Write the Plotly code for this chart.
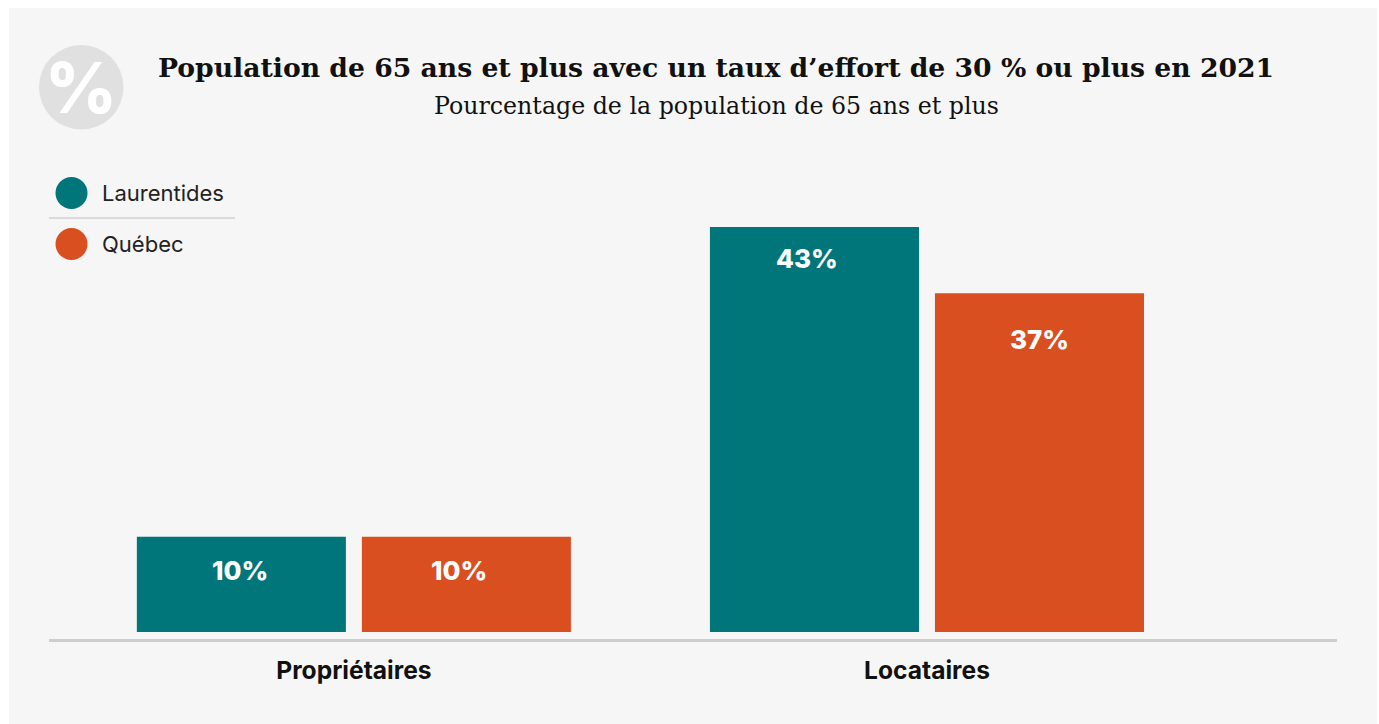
import plotly.graph_objects as go

W, H = 1379, 724
categories = ["Propriétaires", "Locataires"]
series_names = ["Laurentides", "Québec"]
laurentides = [10.2, 43.4]
quebec = [10.2, 36.3]
labels_laurentides = ["10%", "43%"]
labels_quebec = ["10%", "37%"]
title = "Population de 65 ans et plus avec un taux d’effort de 30 % ou plus en 2021"
subtitle = "Pourcentage de la population de 65 ans et plus"

TEAL = "#01767a"
ORANGE = "#d94f1f"
PANEL = "#f6f6f6"
SANS = "Inter, Lato, sans-serif"
SERIF = "'DejaVu Serif', serif"

def px(x):
    return x / W

def py(y):
    return 1 - y / H

fig = go.Figure()
for name, vals, col in [(series_names[0], laurentides, TEAL), (series_names[1], quebec, ORANGE)]:
    fig.add_bar(x=categories, y=vals, name=name, marker=dict(color=col, line=dict(width=0)),
                showlegend=False, hoverinfo="skip")

shapes = [
    dict(type="rect", xref="paper", yref="paper", x0=px(9), x1=px(1377), y0=py(8), y1=py(724),
         fillcolor=PANEL, line_width=0, layer="below"),
    dict(type="circle", xref="paper", yref="paper", x0=px(39), x1=px(123.5), y0=py(45), y1=py(129.5),
         fillcolor="#e0e0e0", line_width=0, layer="below"),
    dict(type="circle", xref="paper", yref="paper", x0=px(55.5), x1=px(87.5), y0=py(177), y1=py(209),
         fillcolor=TEAL, line_width=0),
    dict(type="circle", xref="paper", yref="paper", x0=px(55.5), x1=px(87.5), y0=py(228), y1=py(260),
         fillcolor=ORANGE, line_width=0),
    dict(type="line", xref="paper", yref="paper", x0=px(49), x1=px(235), y0=py(218), y1=py(218),
         line=dict(color="#d0d0d0", width=1.5)),
]

def note(text, x, y, size, color="#111111", family=SANS, weight=400, xanchor="center"):
    return dict(text=text, xref="paper", yref="paper", x=px(x), y=py(y), showarrow=False,
                xanchor=xanchor, yanchor="middle",
                font=dict(size=size, color=color, family=family, weight=weight))

annotations = [
    note(title, 716, 67, 26.65, "#111111", SERIF, 700),
    note(subtitle, 716, 106, 23.7, "#111111", SERIF, 400),
    note("%", 81, 87, 70, "#ffffff", SANS, 800),
    note(series_names[0], 100, 193, 22, "#222222", SANS, 400, "left"),
    note(series_names[1], 100, 244, 22, "#222222", SANS, 400, "left"),
]

# label nudges in pixels, relative to each bar's centre and top
nudge_l = [(-1, -34), (-7, -31)]
nudge_q = [(-7, -34), (0, -46)]
for vals, labs, nudges, slot in [(laurentides, labels_laurentides, nudge_l, -112.5),
                                 (quebec, labels_quebec, nudge_q, 112.5)]:
    for i, (v, t, (dx, dy)) in enumerate(zip(vals, labs, nudges)):
        annotations.append(dict(text=t, x=categories[i], y=v, xref="x", yref="y", showarrow=False,
                                xshift=slot + dx, yshift=dy, xanchor="center", yanchor="middle",
                                font=dict(size=26, color="white", family=SANS, weight=800)))

fig.update_layout(
    width=W, height=H, autosize=False,
    margin=dict(l=0, r=0, t=0, b=0),
    paper_bgcolor="white", plot_bgcolor="rgba(0,0,0,0)",
    barmode="group", bargap=0.2147, bargroupgap=0.071,
    shapes=shapes, annotations=annotations,
    xaxis=dict(domain=[px(49), px(1337)], range=[-0.532, 1.7155], type="category",
               showgrid=False, zeroline=False, showline=True, linecolor="#cdcdcd", linewidth=3,
               ticks="outside", ticklen=8, tickcolor="rgba(0,0,0,0)", tickwidth=1,
               tickfont=dict(size=24.6, color="#111111", family=SANS, weight=700)),
    yaxis=dict(domain=[py(638.5), py(140)], range=[-0.70, 52.73], visible=False),
)
fig.write_html("out.html", config=dict(displayModeBar=False),
               post_script="document.body.style.margin='0';document.body.style.overflow='hidden';")
